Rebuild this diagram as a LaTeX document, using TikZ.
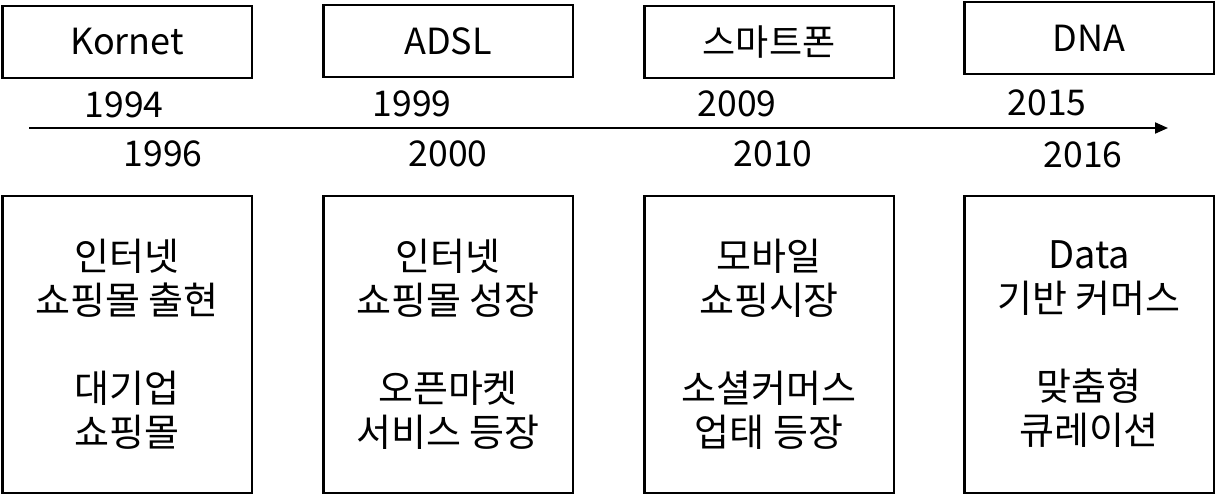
\documentclass[tikz,border=0pt]{standalone}
\usepackage{fontspec}
\setmainfont{Noto Sans CJK KR}
\usetikzlibrary{arrows.meta}
\tikzset{
  techbox/.style={draw,line width=2.5pt,minimum width=249.5pt,minimum height=72pt,inner sep=0pt,font=\fontsize{36}{40}\selectfont},
  eventbox/.style={draw,line width=2.5pt,minimum width=249.5pt,minimum height=297pt,inner sep=0pt,align=center,font=\fontsize{38}{44}\selectfont},
  yearlabel/.style={inner sep=0pt,font=\fontsize{35.5}{40}\selectfont}
}
\begin{document}
\begin{tikzpicture}[x=1pt,y=-1pt]
  \useasboundingbox (0,0) rectangle (1217,495);
  \node[techbox] (kornet) at (127,42) {Kornet};
  \node[techbox] (adsl) at (448,41) {ADSL};
  \node[techbox] (phone) at (769,42) {스마트폰};
  \node[techbox] (dna) at (1089,38) {DNA};
  \coordinate (start) at (29,128);
  \coordinate (end) at (1168,128);
  \draw[line width=2pt,-{Triangle[length=13pt,width=11pt]}] (start)--(end);
  \node[yearlabel] (y1994) at (124,105) {1994};
  \node[yearlabel] (y1996) at (163,154) {1996};
  \node[yearlabel] (y1999) at (412,104) {1999};
  \node[yearlabel] (y2000) at (448,154) {2000};
  \node[yearlabel] (y2009) at (737,104) {2009};
  \node[yearlabel] (y2010) at (773,154) {2010};
  \node[yearlabel] (y2015) at (1047,103) {2015};
  \node[yearlabel] (y2016) at (1083,155) {2016};
  \node[eventbox] (web) at (127,344.5) {인터넷\\쇼핑몰 출현\\[44pt]대기업\\쇼핑몰};
  \node[eventbox] (market) at (448,344.5) {인터넷\\쇼핑몰 성장\\[44pt]오픈마켓\\서비스 등장};
  \node[eventbox] (mobile) at (769,344.5) {모바일\\쇼핑시장\\[44pt]소셜커머스\\업태 등장};
  \node[eventbox] (data) at (1089,344.5) {Data\\기반 커머스\\[44pt]맞춤형\\큐레이션};
\end{tikzpicture}
\end{document}
